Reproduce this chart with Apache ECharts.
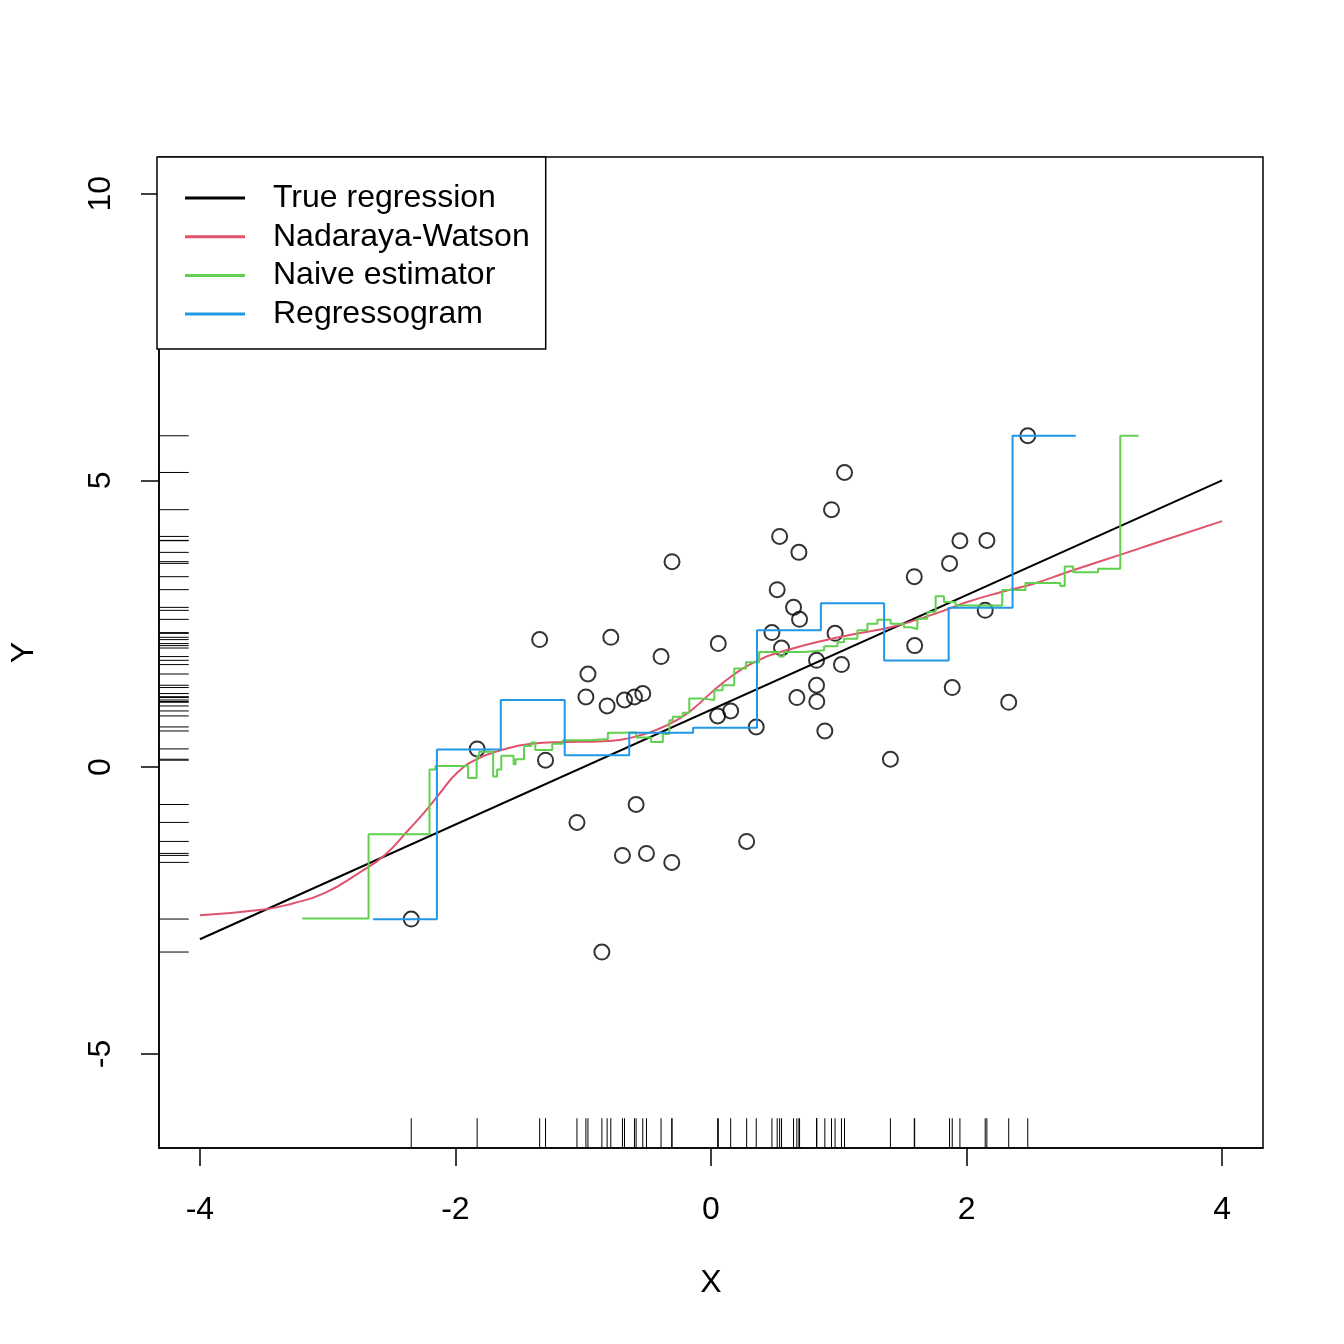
<!DOCTYPE html>
<html>
<head>
<meta charset="utf-8">
<script src="https://cdn.jsdelivr.net/npm/echarts@6/dist/echarts.min.js"></script>
<style>html,body{margin:0;padding:0;background:#fff;}#c{width:1344px;height:1344px;}</style>
</head>
<body>
<div id="c"></div>
<script>
// observed points
const pointX = [-2.346,-1.830,-1.341,-1.295,-1.049,-0.963,-0.979,-0.854,-0.813,-0.784,
  -0.693,-0.677,-0.599,-0.534,-0.586,-0.505,-0.391,-0.305,-0.307,0.057,
  0.052,0.154,0.279,0.354,0.477,0.518,0.537,0.552,0.646,0.672,
  0.688,0.693,0.826,0.826,0.828,0.891,0.943,0.971,1.021,1.045,
  1.404,1.591,1.594,1.867,1.888,1.948,2.146,2.159,2.330,2.479];
const pointY = [-2.648,0.319,2.225,0.122,-0.963,1.625,1.225,-3.223,1.068,2.265,
  -1.538,1.172,1.225,1.284,-0.650,-1.503,1.929,3.584,-1.660,2.155,
  0.894,0.981,-1.294,0.702,2.347,3.096,4.024,2.078,2.787,1.214,
  3.746,2.578,1.864,1.429,1.145,0.632,4.490,2.334,1.789,5.139,
  0.139,3.322,2.120,3.554,1.389,3.949,2.735,3.955,1.132,5.779];

// true regression
const trueX = [-4, 4];
const trueY = [-3, 5];

// Nadaraya-Watson
const nwX = [-4.0,-3.5,-3.281,-3.021,-2.760,-2.552,-2.370,-2.240,-2.135,-1.979,-1.823,-1.666,
  -1.406,-1.146,-0.885,-0.703,-0.547,-0.417,-0.287,-0.156,0.104,0.365,0.625,0.885,1.146,
  1.406,1.745,2.005,2.266,2.526,2.787,3.047,3.307,3.438,4.0];
const nwY = [-2.58,-2.48,-2.38,-2.19,-1.85,-1.53,-1.10,-0.78,-0.49,-0.08,0.15,0.28,
  0.41,0.44,0.45,0.48,0.56,0.66,0.80,0.99,1.49,1.86,2.06,2.21,2.33,
  2.44,2.67,2.88,3.05,3.20,3.40,3.59,3.78,3.88,4.29];

// Naive estimator (step starts)
const naiveX = [-3.198,-2.680,-2.203,-2.156,-1.901,-1.834,-1.815,-1.705,-1.674,-1.641,
  -1.545,-1.529,-1.463,-1.406,-1.375,-1.242,-1.159,-0.951,-0.807,-0.703,
  -0.586,-0.469,-0.377,-0.326,-0.299,-0.221,-0.170,-0.078,0.026,0.091,
  0.182,0.273,0.377,0.534,0.570,0.729,0.885,0.990,1.041,1.146,
  1.224,1.302,1.406,1.510,1.563,1.615,1.693,1.758,1.823,1.914,
  2.279,2.461,2.734,2.768,2.834,3.029,3.203,3.346];
const naiveY = [-2.64,-1.17,-0.04,0.02,-0.19,0.18,0.27,-0.16,-0.04,0.20,
  0.05,0.14,0.37,0.43,0.30,0.41,0.47,0.49,0.60,0.61,
  0.52,0.44,0.58,0.82,0.88,0.95,1.20,1.17,1.34,1.43,
  1.72,1.83,2.01,1.93,2.01,2.04,2.11,2.18,2.24,2.39,
  2.50,2.57,2.50,2.44,2.41,2.59,2.71,2.98,2.88,2.82,
  3.09,3.21,3.16,3.50,3.40,3.46,5.78,5.78];

// Regressogram (bin starts)
const regX = [-2.645,-2.145,-1.645,-1.145,-0.640,-0.140,0.360,0.860,1.355,1.860,2.360,2.855];
const regY = [-2.65,0.31,1.17,0.21,0.60,0.69,2.39,2.86,1.86,2.78,5.78,5.78];

const xTicks = [-4, -2, 0, 2, 4];
const yTicks = [-5, 0, 5, 10];

const zip = (a, b) => a.map((v, i) => [v, b[i]]);
const FONT = 'Liberation Sans, Arial, Helvetica, sans-serif';

const chart = echarts.init(document.getElementById('c'), null, {renderer: 'canvas'});

const rugX = {
  type: 'custom', name: 'rugX', silent: true, z: 3,
  data: pointX.map(v => [v]),
  encode: {x: 0},
  renderItem: function (params, api) {
    const p = api.coord([api.value(0), 0]);
    const cs = params.coordSys;
    const b = cs.y + cs.height;
    return {type: 'line', shape: {x1: p[0], y1: b, x2: p[0], y2: b - cs.height * 0.03},
      style: {stroke: '#000', lineWidth: 1}};
  }
};
const rugY = {
  type: 'custom', name: 'rugY', silent: true, z: 3,
  data: pointY.map(v => [0, v]),
  encode: {y: 1},
  renderItem: function (params, api) {
    const p = api.coord([0, api.value(1)]);
    const cs = params.coordSys;
    const l = cs.x;
    return {type: 'line', shape: {x1: l, y1: p[1], x2: l + cs.height * 0.03, y2: p[1]},
      style: {stroke: '#000', lineWidth: 1}};
  }
};

const option = {
  animation: false,
  backgroundColor: '#fff',
  textStyle: {fontFamily: FONT},
  grid: {left: 157, top: 157, width: 1106, height: 991, show: true,
    borderColor: '#000', borderWidth: 1.5, backgroundColor: 'transparent'},
  legend: {
    data: ['True regression', 'Nadaraya-Watson', 'Naive estimator', 'Regressogram'],
    orient: 'vertical', left: 157, top: 157,
    padding: [25, 16, 19, 28],
    borderColor: '#000', borderWidth: 1.5, borderRadius: 0,
    backgroundColor: '#fff',
    icon: 'rect', itemWidth: 60, itemHeight: 3, itemGap: 6.7,
    selectedMode: false,
    textStyle: {fontSize: 32, color: '#000', fontFamily: FONT, padding: [0, 0, 0, 23], lineHeight: 32}
  },
  xAxis: {
    type: 'value', min: -4.32, max: 4.32,
    name: 'X', nameLocation: 'middle', nameGap: 119,
    nameTextStyle: {fontSize: 32, color: '#000', fontFamily: FONT},
    axisLine: {show: true, onZero: false, lineStyle: {color: '#000', width: 1.5}},
    axisTick: {show: true, inside: false, length: 18, customValues: xTicks, lineStyle: {color: '#000', width: 1.5}},
    axisLabel: {show: true, margin: 46, fontSize: 32, color: '#000', fontFamily: FONT, customValues: xTicks,
      formatter: v => String(v)},
    splitLine: {show: false}
  },
  yAxis: {
    type: 'value', min: -6.64, max: 10.64,
    name: 'Y', nameLocation: 'middle', nameGap: 119, nameRotate: 90,
    nameTextStyle: {fontSize: 32, color: '#000', fontFamily: FONT},
    axisLine: {show: true, onZero: false, lineStyle: {color: '#000', width: 1.5}},
    axisTick: {show: true, inside: false, length: 18, customValues: yTicks, lineStyle: {color: '#000', width: 1.5}},
    axisLabel: {show: true, margin: 42, rotate: 90, fontSize: 32, color: '#000', fontFamily: FONT, customValues: yTicks,
      formatter: v => String(v)},
    splitLine: {show: false}
  },
  series: [
    {type: 'scatter', name: 'points', data: zip(pointX, pointY), symbol: 'circle', symbolSize: 15,
      itemStyle: {color: 'rgba(0,0,0,0)', borderColor: '#000', borderWidth: 2}, z: 2, silent: true},
    {type: 'line', name: 'True regression', data: zip(trueX, trueY), showSymbol: false,
      lineStyle: {color: '#000', width: 2}, itemStyle: {color: '#000'}, z: 3, silent: true},
    {type: 'line', name: 'Nadaraya-Watson', data: zip(nwX, nwY), showSymbol: false, smooth: 0.5,
      lineStyle: {color: '#DF536B', width: 2}, itemStyle: {color: '#DF536B'}, z: 4, silent: true},
    {type: 'line', name: 'Naive estimator', data: zip(naiveX, naiveY), showSymbol: false, step: 'end',
      lineStyle: {color: '#61D04F', width: 2}, itemStyle: {color: '#61D04F'}, z: 5, silent: true},
    {type: 'line', name: 'Regressogram', data: zip(regX, regY), showSymbol: false, step: 'end',
      lineStyle: {color: '#2297E6', width: 2}, itemStyle: {color: '#2297E6'}, z: 6, silent: true},
    rugX, rugY
  ]
};
chart.setOption(option);
</script>
</body>
</html>
